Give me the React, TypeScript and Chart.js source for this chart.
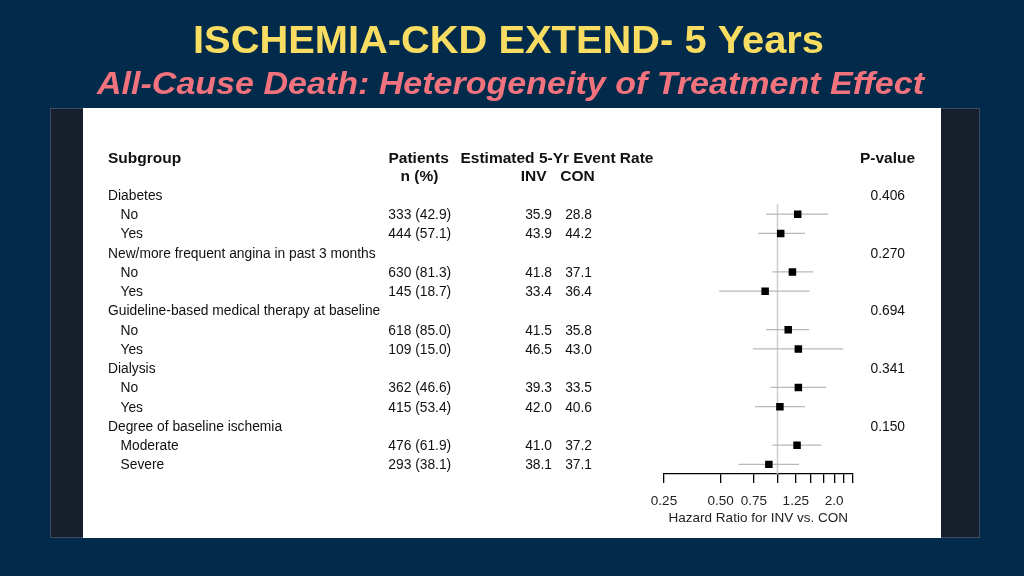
import React, { useEffect, useRef } from 'react';
import { Chart, registerables } from 'chart.js';

Chart.register(...registerables);

const TITLE = 'ISCHEMIA-CKD EXTEND- 5 Years';
const SUBTITLE = 'All-Cause Death: Heterogeneity of Treatment Effect';

const GROUPS = [
  'Diabetes',
  'New/more frequent angina in past 3 months',
  'Guideline-based medical therapy at baseline',
  'Dialysis',
  'Degree of baseline ischemia',
];
const LEVELS = [
  ['No', 'Yes'],
  ['No', 'Yes'],
  ['No', 'Yes'],
  ['No', 'Yes'],
  ['Moderate', 'Severe'],
];
const P_VALUES = ['0.406', '0.270', '0.694', '0.341', '0.150'];

const N_PATIENTS = [333, 444, 630, 145, 618, 109, 362, 415, 476, 293];
const PCT_PATIENTS = ['42.9', '57.1', '81.3', '18.7', '85.0', '15.0', '46.6', '53.4', '61.9', '38.1'];
const INV_RATE = ['35.9', '43.9', '41.8', '33.4', '41.5', '46.5', '39.3', '42.0', '41.0', '38.1'];
const CON_RATE = ['28.8', '44.2', '37.1', '36.4', '35.8', '43.0', '33.5', '40.6', '37.2', '37.1'];

const HR = [1.28, 1.04, 1.2, 0.86, 1.14, 1.29, 1.29, 1.03, 1.27, 0.9];
const HR_LOW = [0.87, 0.79, 0.94, 0.49, 0.87, 0.74, 0.92, 0.76, 0.94, 0.62];
const HR_HIGH = [1.86, 1.4, 1.55, 1.48, 1.47, 2.23, 1.81, 1.4, 1.71, 1.3];

const X_TICKS = [0.25, 0.5, 0.75, 1, 1.25, 1.5, 1.75, 2, 2.25, 2.5];
const X_TICK_LABELS = ['0.25', '0.50', '0.75', '', '1.25', '', '', '2.0', '', ''];
const X_TITLE = 'Hazard Ratio for INV vs. CON';

const HEAD_SUBGROUP = 'Subgroup';
const HEAD_PATIENTS = 'Patients';
const HEAD_NPCT = 'n (%)';
const HEAD_RATE = 'Estimated 5-Yr Event Rate';
const HEAD_INV = 'INV';
const HEAD_CON = 'CON';
const HEAD_P = 'P-value';

const FONT = "'Liberation Sans', Arial, Helvetica, sans-serif";

// row index of each group header and each subgroup row
const GROUP_ROW: number[] = [];
const SUB_ROW: number[] = [];
{
  let r = 0;
  GROUPS.forEach((g, gi) => {
    GROUP_ROW.push(r);
    r++;
    LEVELS[gi].forEach(() => {
      SUB_ROW.push(r);
      r++;
    });
  });
}
const N_ROWS = GROUP_ROW.length + SUB_ROW.length;

function stretchText(ctx: CanvasRenderingContext2D, text: string, cx: number, baseline: number, targetW: number) {
  const w = ctx.measureText(text).width;
  const s = targetW / w;
  ctx.save();
  ctx.translate(cx, baseline);
  ctx.scale(s, 1);
  ctx.textAlign = 'center';
  ctx.textBaseline = 'alphabetic';
  ctx.fillText(text, 0, 0);
  ctx.restore();
}

const panelPlugin = {
  id: 'panelPlugin',
  beforeDraw(chart: any) {
    const ctx: CanvasRenderingContext2D = chart.ctx;
    const yScale = chart.scales.y;
    ctx.save();
    // background
    ctx.fillStyle = '#022B4B';
    ctx.fillRect(0, 0, chart.width, chart.height);
    // titles
    ctx.fillStyle = '#F8DD62';
    ctx.font = `bold 39.5px ${FONT}`;
    stretchText(ctx, TITLE, 508.5, 53, 631);
    ctx.fillStyle = '#F2737E';
    ctx.font = `italic bold 31px ${FONT}`;
    stretchText(ctx, SUBTITLE, 510.5, 94, 827);
    // frame
    ctx.fillStyle = '#171F2C';
    ctx.fillRect(50, 108, 930, 430);
    ctx.strokeStyle = '#3C4B5D';
    ctx.lineWidth = 1;
    ctx.strokeRect(50.5, 108.5, 929, 429);
    ctx.fillStyle = '#FFFFFF';
    ctx.fillRect(83, 108, 858, 430);

    // table headers
    ctx.fillStyle = '#111111';
    ctx.textBaseline = 'alphabetic';
    ctx.font = `bold 15.5px ${FONT}`;
    ctx.textAlign = 'left';
    ctx.fillText(HEAD_SUBGROUP, 108, 162.5);
    ctx.fillText(HEAD_PATIENTS, 388.5, 162.5);
    ctx.fillText(HEAD_RATE, 460.5, 162.5);
    ctx.fillText(HEAD_P, 860, 162.5);
    ctx.textAlign = 'center';
    ctx.fillText(HEAD_NPCT, 419.5, 181);
    ctx.fillText(HEAD_INV, 533.7, 181);
    ctx.fillText(HEAD_CON, 577.5, 181);

    // table body
    ctx.font = `13.8px ${FONT}`;
    const off = 4.9;
    GROUPS.forEach((g, gi) => {
      const y = yScale.getPixelForValue(GROUP_ROW[gi]) + off;
      ctx.textAlign = 'left';
      ctx.fillText(g, 108, y);
      ctx.textAlign = 'right';
      ctx.fillText(P_VALUES[gi], 905, y);
    });
    let k = 0;
    LEVELS.forEach((lv) => {
      lv.forEach((name) => {
        const y = yScale.getPixelForValue(SUB_ROW[k]) + off;
        ctx.textAlign = 'left';
        ctx.fillText(name, 120.5, y);
        ctx.fillText(`${N_PATIENTS[k]} (${PCT_PATIENTS[k]})`, 388.3, y);
        ctx.textAlign = 'right';
        ctx.fillText(INV_RATE[k], 552, y);
        ctx.fillText(CON_RATE[k], 592, y);
        k++;
      });
    });
    ctx.restore();
  },
};

export default function App() {
  const canvasRef = useRef<HTMLCanvasElement | null>(null);

  useEffect(() => {
    const canvas = canvasRef.current;
    if (!canvas) return;

    const squares = {
      label: 'HR',
      data: HR.map((v, i) => ({ x: v, y: SUB_ROW[i] })),
      pointStyle: 'rect',
      pointRadius: 5.3,
      pointBackgroundColor: '#000000',
      pointBorderWidth: 0,
      showLine: false,
    };
    const cis = HR.map((_, i) => ({
      label: 'CI ' + i,
      data: [
        { x: HR_LOW[i], y: SUB_ROW[i] },
        { x: HR_HIGH[i], y: SUB_ROW[i] },
      ],
      showLine: true,
      borderColor: '#B9B9B9',
      borderWidth: 1.3,
      pointRadius: 0,
    }));
    const ref = {
      label: 'ref',
      data: [
        { x: 1, y: 0.47 },
        { x: 1, y: N_ROWS - 0.5 },
      ],
      showLine: true,
      borderColor: '#CDCDCD',
      borderWidth: 1.5,
      pointRadius: 0,
    };

    const chart = new Chart(canvas, {
      type: 'scatter',
      data: { datasets: [squares, ...cis, ref] as any },
      options: {
        animation: false,
        responsive: false,
        devicePixelRatio: 1,
        events: [],
        layout: { padding: { left: 664, right: 171.5, top: 185.3, bottom: 42 } },
        plugins: { legend: { display: false }, tooltip: { enabled: false }, title: { display: false } },
        scales: {
          x: {
            type: 'logarithmic',
            min: 0.25,
            max: 2.5,
            position: 'bottom',
            afterBuildTicks: (axis: any) => {
              axis.ticks = X_TICKS.map((v) => ({ value: v }));
            },
            afterFit: (scale: any) => {
              scale.height = 60;
              scale.paddingLeft = 0;
              scale.paddingRight = 0;
            },
            ticks: {
              autoSkip: false,
              maxRotation: 0,
              minRotation: 0,
              padding: 10,
              color: '#222222',
              font: { family: FONT, size: 13.5 },
              callback: (_v: any, i: number) => X_TICK_LABELS[i],
            },
            grid: {
              display: true,
              drawOnChartArea: false,
              drawTicks: true,
              tickLength: 9,
              color: '#000000',
              lineWidth: 1.3,
            },
            border: { display: true, color: '#000000', width: 1.3 },
            title: {
              display: true,
              text: X_TITLE,
              color: '#222222',
              font: { family: FONT, size: 13.5 },
              padding: { top: 0, bottom: 8 },
            },
          },
          y: {
            type: 'linear',
            min: -0.5,
            max: N_ROWS - 0.5,
            reverse: true,
            display: false,
          },
        },
      } as any,
      plugins: [panelPlugin],
    });

    return () => chart.destroy();
  }, []);

  return (
    <div style={{ position: 'fixed', left: 0, top: 0, width: 1024, height: 576 }}>
      <canvas ref={canvasRef} width={1024} height={576} style={{ display: 'block' }} />
    </div>
  );
}
